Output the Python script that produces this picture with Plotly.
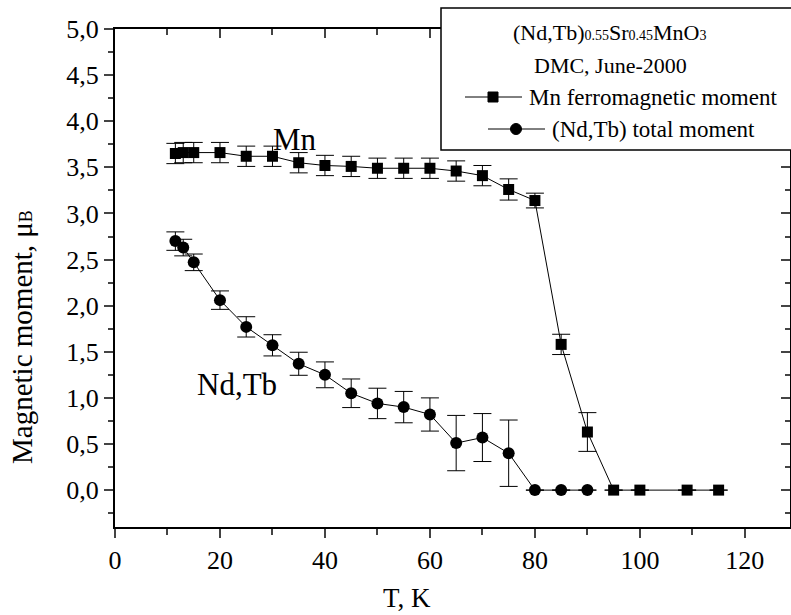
import plotly.graph_objects as go

# ---- data ----
T_mn = [11.5, 13, 15, 20, 25, 30, 35, 40, 45, 50, 55, 60, 65, 70, 75, 80, 85, 90, 95, 100, 109, 115]
M_mn = [3.65, 3.66, 3.66, 3.66, 3.62, 3.62, 3.55, 3.52, 3.51, 3.49, 3.49, 3.49, 3.46, 3.41, 3.26, 3.14, 1.58, 0.63, 0, 0, 0, 0]
E_mn = [0.11, 0.11, 0.11, 0.11, 0.11, 0.11, 0.11, 0.11, 0.11, 0.11, 0.11, 0.11, 0.11, 0.11, 0.115, 0.08, 0.11, 0.21,
        None, None, None, None]

T_nd = [11.5, 13, 15, 20, 25, 30, 35, 40, 45, 50, 55, 60, 65, 70, 75, 80, 85, 90]
M_nd = [2.70, 2.63, 2.47, 2.06, 1.77, 1.57, 1.37, 1.25, 1.05, 0.94, 0.90, 0.82, 0.51, 0.57, 0.40, 0, 0, 0]
E_nd = [0.10, 0.09, 0.09, 0.10, 0.11, 0.115, 0.125, 0.14, 0.155, 0.165, 0.17, 0.18, 0.30, 0.26, 0.36, None, None, None]

x_ticks = [0, 20, 40, 60, 80, 100, 120]
y_ticks = [0.0, 0.5, 1.0, 1.5, 2.0, 2.5, 3.0, 3.5, 4.0, 4.5, 5.0]
y_ticktext = ["0,0", "0,5", "1,0", "1,5", "2,0", "2,5", "3,0", "3,5", "4,0", "4,5", "5,0"]

FONT = "Liberation Serif"
W, H = 791, 615
ML, MR, MT, MB = 115, 1, 29, 88
PW, PH = W - ML - MR, H - MT - MB


def px(xp):
    return (xp - ML) / PW


def py(yp):
    return (H - MB - yp) / PH


fig = go.Figure()

fig.add_trace(go.Scatter(
    x=T_mn, y=M_mn, mode="lines+markers",
    line=dict(color="black", width=1),
    marker=dict(symbol="square", size=11, color="black"),
    error_y=dict(type="data", array=E_mn, visible=True, color="black", thickness=1, width=9),
    showlegend=False,
))
fig.add_trace(go.Scatter(
    x=T_nd, y=M_nd, mode="lines+markers",
    line=dict(color="black", width=1),
    marker=dict(symbol="circle", size=12, color="black"),
    error_y=dict(type="data", array=E_nd, visible=True, color="black", thickness=1, width=9),
    showlegend=False,
))
# helper trace for the mirrored (top / right) axes
fig.add_trace(go.Scatter(x=[None], y=[None], xaxis="x2", yaxis="y2", showlegend=False, hoverinfo="skip"))

XR = [0, 128.6]
YR = [-0.4, 5.0]

fig.update_layout(
    width=W, height=H,
    margin=dict(l=ML, r=MR, t=MT, b=MB),
    paper_bgcolor="white", plot_bgcolor="white",
    font=dict(family=FONT, size=22, color="black"),
    xaxis=dict(range=XR, tickvals=x_ticks, ticks="outside", ticklen=9, tickwidth=1.5,
               showline=True, linewidth=2, linecolor="black", showgrid=False, zeroline=False,
               tickfont=dict(family=FONT, size=26),
               minor=dict(tickvals=[10, 30, 50, 70, 90, 110], ticks="outside", ticklen=6, tickwidth=1.5)),
    yaxis=dict(range=YR, tickvals=y_ticks, ticktext=y_ticktext, ticks="outside", ticklen=9, tickwidth=1.5,
               showline=True, linewidth=2, linecolor="black", showgrid=False, zeroline=False,
               tickfont=dict(family=FONT, size=26),
               minor=dict(dtick=0.25, tick0=0, ticks="outside", ticklen=5, tickwidth=1.5)),
    xaxis2=dict(range=XR, overlaying="x", side="top", tickvals=x_ticks, ticks="inside", ticklen=9,
                tickwidth=1.5, showticklabels=False, showline=True, linewidth=2, linecolor="black",
                showgrid=False, zeroline=False,
                minor=dict(tickvals=[10, 30, 50, 70, 90, 110], ticks="inside", ticklen=6, tickwidth=1.5)),
    yaxis2=dict(range=YR, overlaying="y", side="right", tickvals=y_ticks, ticks="inside", ticklen=9,
                tickwidth=1.5, showticklabels=False, showline=True, linewidth=2, linecolor="black",
                showgrid=False, zeroline=False,
                minor=dict(dtick=0.25, tick0=0, ticks="inside", ticklen=5, tickwidth=1.5)),
)

ann = []
# axis titles
ann.append(dict(text="T, K", x=px(407), y=py(598), xref="paper", yref="paper",
                showarrow=False, font=dict(family=FONT, size=27), xanchor="center", yanchor="middle"))
ann.append(dict(text="Magnetic moment, μ<span style='font-size:18px'>B</span>", x=px(22), y=py(337),
                xref="paper", yref="paper", showarrow=False, textangle=-90,
                font=dict(family=FONT, size=29), xanchor="center", yanchor="middle"))
# in-plot labels
ann.append(dict(text="Mn", x=34.3, y=3.8, xref="x", yref="y", showarrow=False, font=dict(family=FONT, size=31)))
ann.append(dict(text="Nd,Tb", x=23.2, y=1.15, xref="x", yref="y", showarrow=False, font=dict(family=FONT, size=31)))

# legend box content
s = "font-size:14px"
ann.append(dict(text=f"(Nd,Tb)<span style='{s}'>0.55</span>Sr<span style='{s}'>0.45</span>MnO<span style='{s}'>3</span>",
                x=px(610), y=py(33), xref="paper", yref="paper", showarrow=False,
                font=dict(family=FONT, size=22), xanchor="center", yanchor="middle"))
ann.append(dict(text="DMC, June-2000", x=px(610), y=py(65), xref="paper", yref="paper", showarrow=False,
                font=dict(family=FONT, size=22), xanchor="center", yanchor="middle"))
ann.append(dict(text="Mn ferromagnetic moment", x=px(527), y=py(97), xref="paper", yref="paper",
                showarrow=False, font=dict(family=FONT, size=23), xanchor="left", yanchor="middle"))
ann.append(dict(text="(Nd,Tb) total moment", x=px(550), y=py(129), xref="paper", yref="paper",
                showarrow=False, font=dict(family=FONT, size=23), xanchor="left", yanchor="middle"))
fig.update_layout(annotations=ann)

shapes = []
shapes.append(dict(type="rect", xref="paper", yref="paper", x0=px(441), x1=px(800), y0=py(150), y1=py(8),
                   line=dict(color="black", width=1.5), fillcolor="white", layer="above"))
# legend symbols
shapes.append(dict(type="line", xref="paper", yref="paper", x0=px(465), x1=px(522), y0=py(97), y1=py(97),
                   line=dict(color="black", width=1), layer="above"))
shapes.append(dict(type="line", xref="paper", yref="paper", x0=px(488), x1=px(545), y0=py(129), y1=py(129),
                   line=dict(color="black", width=1), layer="above"))
shapes.append(dict(type="rect", xref="paper", yref="paper", xsizemode="pixel", ysizemode="pixel",
                   xanchor=px(493), yanchor=py(97), x0=-5, x1=5, y0=-5, y1=5,
                   line=dict(color="black", width=1), fillcolor="black", layer="above"))
shapes.append(dict(type="circle", xref="paper", yref="paper", xsizemode="pixel", ysizemode="pixel",
                   xanchor=px(516), yanchor=py(129), x0=-5.5, x1=5.5, y0=-5.5, y1=5.5,
                   line=dict(color="black", width=1), fillcolor="black", layer="above"))
fig.update_layout(shapes=shapes)

fig.write_html("out.html")
